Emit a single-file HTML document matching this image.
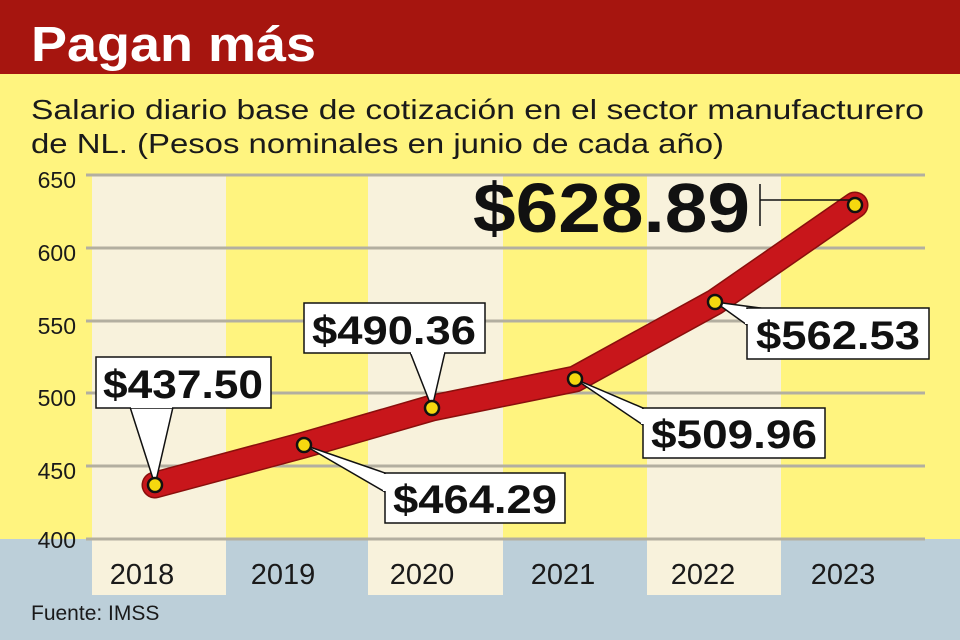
<!DOCTYPE html>
<html><head><meta charset="utf-8"><style>
html,body{margin:0;padding:0;}
body{width:960px;height:640px;overflow:hidden;background:#fff47f;}
svg{display:block;font-family:"Liberation Sans",sans-serif;}
</style></head><body>
<svg width="960" height="640" viewBox="0 0 960 640">
<rect x="0" y="0" width="960" height="640" fill="#fff47f"/>
<rect x="0" y="0" width="960" height="74" fill="#a6150f"/>
<text x="31" y="61" font-size="49" font-weight="bold" fill="#fff" textLength="285" lengthAdjust="spacingAndGlyphs">Pagan más</text>
<text x="31" y="119" font-size="28" fill="#1a1a1a" textLength="893" lengthAdjust="spacingAndGlyphs">Salario diario base de cotización en el sector manufacturero</text>
<text x="31" y="153" font-size="28" fill="#1a1a1a" textLength="693" lengthAdjust="spacingAndGlyphs">de NL. (Pesos nominales en junio de cada año)</text>
<rect x="0" y="539" width="960" height="101" fill="#bccfd9"/>
<g fill="#f8f2dc">
<rect x="92" y="176" width="134" height="419"/>
<rect x="368" y="176" width="135" height="419"/>
<rect x="647" y="176" width="134" height="419"/>
</g>
<g stroke="#b3afa0" stroke-width="3">
<line x1="86" y1="175" x2="925" y2="175"/>
<line x1="86" y1="248" x2="925" y2="248"/>
<line x1="86" y1="321" x2="925" y2="321"/>
<line x1="86" y1="393" x2="925" y2="393"/>
<line x1="86" y1="466" x2="925" y2="466"/>
<line x1="86" y1="539" x2="925" y2="539"/>
</g>
<g font-size="23" fill="#1a1a1a" text-anchor="end">
<text x="76" y="188">650</text>
<text x="76" y="261">600</text>
<text x="76" y="334">550</text>
<text x="76" y="406">500</text>
<text x="76" y="479">450</text>
<text x="76" y="548">400</text>
</g>
<g font-size="29" fill="#1a1a1a" text-anchor="middle">
<text x="142" y="584">2018</text>
<text x="283" y="584">2019</text>
<text x="422" y="584">2020</text>
<text x="563" y="584">2021</text>
<text x="703" y="584">2022</text>
<text x="843" y="584">2023</text>
</g>
<text x="31" y="620" font-size="21" fill="#1a1a1a">Fuente: IMSS</text>
<polyline points="155,485 304,445 432,408 575,379 715,302 855,205" fill="none" stroke="#8a0f0c" stroke-width="27" stroke-linecap="round" stroke-linejoin="round"/>
<polyline points="155,485 304,445 432,408 575,379 715,302 855,205" fill="none" stroke="#c8161b" stroke-width="24" stroke-linecap="round" stroke-linejoin="round"/>
<g stroke="#111" stroke-width="1.5" fill="#fff">
<polygon points="130,407 155,485 173,407"/>
<rect x="96" y="357" width="175" height="51"/>
<polygon points="410,352 432,408 445,352"/>
<rect x="304" y="303" width="181" height="50"/>
<polygon points="304,445 385,473 385,492"/>
<rect x="385" y="473" width="180" height="50"/>
<polygon points="575,379 643,408 643,425"/>
<rect x="643" y="408" width="182" height="50"/>
<polygon points="715,302 760,308 747,325"/>
<rect x="747" y="308" width="182" height="51"/>
</g>
<g fill="#fff" stroke="none">
<rect x="131" y="405" width="41" height="3"/>
<rect x="411" y="351" width="33" height="3"/>
<rect x="383" y="474" width="4" height="17"/>
<rect x="641" y="409" width="4" height="15"/>
<rect x="745" y="309" width="4" height="15"/>
</g>
<g font-size="40" font-weight="bold" fill="#111" text-anchor="middle">
<text x="183" y="398" textLength="160" lengthAdjust="spacingAndGlyphs">$437.50</text>
<text x="394" y="344" textLength="164" lengthAdjust="spacingAndGlyphs">$490.36</text>
<text x="475" y="513" textLength="164" lengthAdjust="spacingAndGlyphs">$464.29</text>
<text x="734" y="448" textLength="166" lengthAdjust="spacingAndGlyphs">$509.96</text>
<text x="838" y="349" textLength="164" lengthAdjust="spacingAndGlyphs">$562.53</text>
</g>
<text x="473" y="232" font-size="70" font-weight="bold" fill="#111" textLength="277" lengthAdjust="spacingAndGlyphs">$628.89</text>
<line x1="760" y1="184" x2="760" y2="226" stroke="#111" stroke-width="1.5"/>
<line x1="760" y1="200" x2="855" y2="200" stroke="#111" stroke-width="1.5"/>
<g fill="#f5d80f" stroke="#111" stroke-width="2.5">
<circle cx="155" cy="485" r="7"/>
<circle cx="304" cy="445" r="7"/>
<circle cx="432" cy="408" r="7"/>
<circle cx="575" cy="379" r="7"/>
<circle cx="715" cy="302" r="7"/>
<circle cx="855" cy="205" r="7"/>
</g>
</svg>
</body></html>
